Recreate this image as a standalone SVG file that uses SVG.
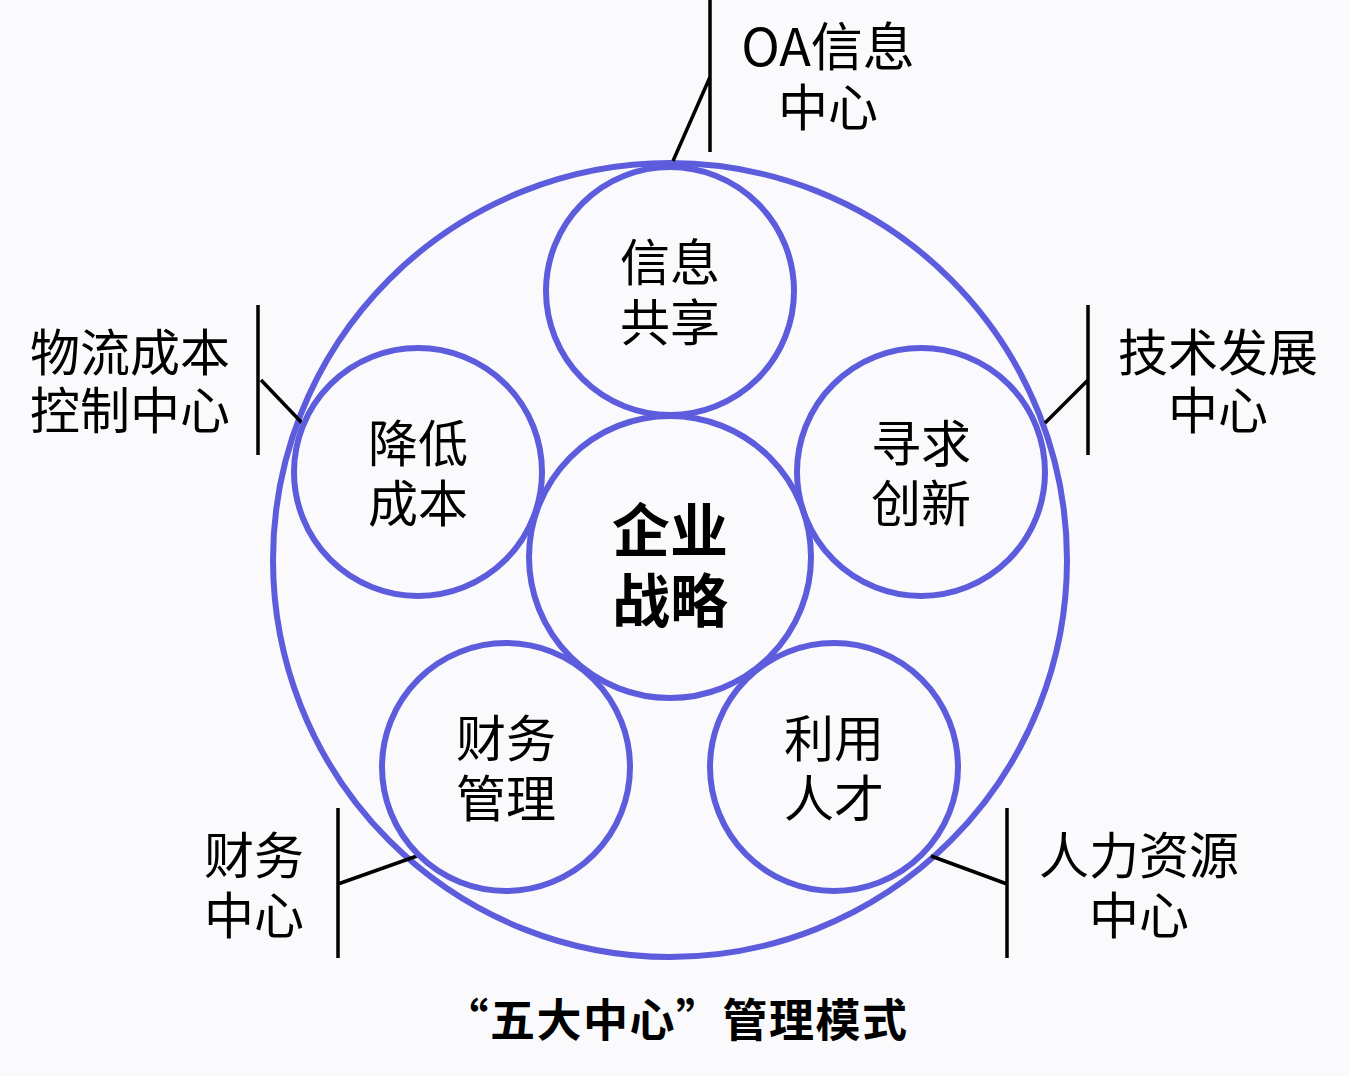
<svg xmlns="http://www.w3.org/2000/svg" width="1350" height="1076" viewBox="0 0 1350 1076">
<style>
.c{fill:none;stroke:#5c5cdc;stroke-width:6}
.l{stroke:#000;stroke-width:3.5;fill:none}
.t{font-family:"Noto Sans CJK SC","Noto Sans",sans-serif;font-size:50px;fill:#000;text-anchor:middle}
.b{font-family:"Noto Sans CJK SC","Noto Sans",sans-serif;font-weight:bold;fill:#000;text-anchor:middle}
</style>
<rect width="1350" height="1076" fill="#fafafc"/>
<g id="outer"><circle class="c" cx="670" cy="560" r="397"/></g>
<g id="connectors">
<path class="l" d="M710 0V152M710 77L673 161"/>
<path class="l" d="M258 305V455M261 380L303 424"/>
<path class="l" d="M1088 305V455M1088 380L1045 423"/>
<path class="l" d="M338 808V958M338 884L417 856"/>
<path class="l" d="M1007 808V958M1007 884L931 856"/>
</g>
<g id="n-top"><circle class="c" cx="670" cy="291" r="124"/><text class="t"><tspan x="670" y="281">信息</tspan><tspan x="670" y="341">共享</tspan></text></g>
<g id="n-left"><circle class="c" cx="418" cy="472" r="124"/><text class="t"><tspan x="418" y="462">降低</tspan><tspan x="418" y="522">成本</tspan></text></g>
<g id="n-right"><circle class="c" cx="921" cy="472" r="124"/><text class="t"><tspan x="921" y="462">寻求</tspan><tspan x="921" y="522">创新</tspan></text></g>
<g id="n-bl"><circle class="c" cx="506" cy="767" r="124"/><text class="t"><tspan x="506" y="757">财务</tspan><tspan x="506" y="817">管理</tspan></text></g>
<g id="n-br"><circle class="c" cx="834" cy="767" r="124"/><text class="t"><tspan x="834" y="757">利用</tspan><tspan x="834" y="817">人才</tspan></text></g>
<g id="n-center"><circle class="c" cx="670" cy="557" r="141"/><text class="b" font-size="58"><tspan x="670" y="552">企业</tspan><tspan x="670" y="622">战略</tspan></text></g>
<g id="lab-top"><text class="t"><tspan x="828" y="66" font-size="52">OA信息</tspan><tspan x="828" y="126">中心</tspan></text></g>
<g id="lab-left"><text class="t"><tspan x="130" y="371">物流成本</tspan><tspan x="130" y="429">控制中心</tspan></text></g>
<g id="lab-right"><text class="t"><tspan x="1218" y="371">技术发展</tspan><tspan x="1218" y="429">中心</tspan></text></g>
<g id="lab-bl"><text class="t"><tspan x="254" y="874">财务</tspan><tspan x="254" y="934">中心</tspan></text></g>
<g id="lab-br"><text class="t"><tspan x="1139" y="874">人力资源</tspan><tspan x="1139" y="934">中心</tspan></text></g>
<g id="caption"><text class="b" x="676" y="1037" font-size="45" letter-spacing="1.5">“五大中心”管理模式</text></g>
</svg>
